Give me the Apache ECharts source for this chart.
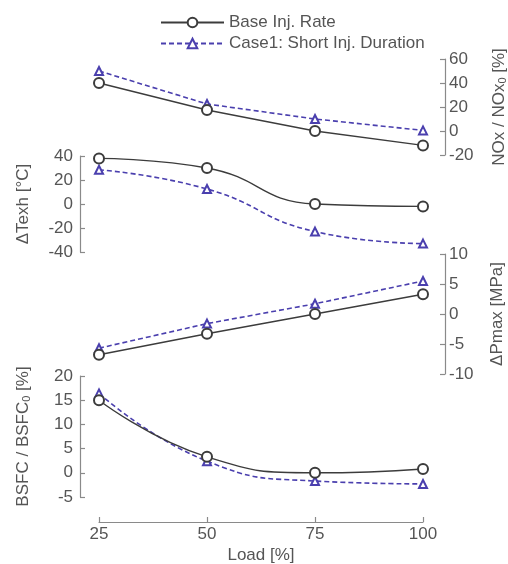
<!DOCTYPE html>
<html>
<head>
<meta charset="utf-8">
<script src="https://cdn.jsdelivr.net/npm/echarts@6/dist/echarts.min.js"></script>
<style>html,body{margin:0;padding:0;background:#fff;}#c{width:508px;height:564px;}</style>
</head>
<body>
<div id="c"></div>
<script>
const loads = [25, 50, 75, 100];
const seriesNames = ['Base Inj. Rate', 'Case1: Short Inj. Duration'];
const noxBase = [40, 17.5, 0, -12];
const noxCase1 = [50, 22.5, 10, 0.5];
const texhBase = [38, 30, 0, -2];
const texhCase1 = [28.5, 12.5, -23, -33];
const pmaxBase = [-6.8, -3.3, 0, 3.3];
const pmaxCase1 = [-5.7, -1.6, 1.7, 5.5];
const bsfcBase = [15, 3.3, 0, 0.8];
const bsfcCase1 = [16.4, 2.4, -1.7, -2.3];

const FONT = 'Liberation Sans';
const FS = 17;
const axisColor = '#8a8a8a';
const textColor = '#555';
const baseColor = '#3c3c3c';
const caseColor = '#4a3fae';

function pairs(ys) { return loads.map((x, i) => [x, ys[i]]); }

const grids = [
  {left: 99, width: 324, top: 59, height: 96, outerBoundsMode: 'none', containLabel: false},
  {left: 99, width: 324, top: 156, height: 96, outerBoundsMode: 'none', containLabel: false},
  {left: 99, width: 324, top: 254, height: 120, outerBoundsMode: 'none', containLabel: false},
  {left: 99, width: 324, top: 376, height: 121, outerBoundsMode: 'none', containLabel: false}
];

const xAxes = grids.map((g, i) => ({
  type: 'value', gridIndex: i, min: 25, max: 100, interval: 25,
  show: i === 3, position: 'bottom', offset: 25,
  axisLine: {show: true, onZero: false, lineStyle: {color: axisColor, width: 1.2}},
  axisTick: {show: true, inside: true, length: 5, lineStyle: {color: axisColor, width: 1.2}},
  axisLabel: {show: true, margin: 4, color: textColor, fontFamily: FONT, fontSize: FS},
  splitLine: {show: false},
  name: i === 3 ? 'Load [%]' : '', nameLocation: 'middle', nameGap: 25,
  nameTextStyle: {color: textColor, fontFamily: FONT, fontSize: FS}
}));

const subRich = {sub: {fontSize: 11, color: textColor, fontFamily: FONT, padding: [6, 0, 0, 0]}};

function yAxis(i, pos, min, max, interval, name, gap) {
  return {
    type: 'value', gridIndex: i, position: pos, offset: pos === 'right' ? 22 : 19,
    min: min, max: max, interval: interval,
    axisLine: {show: true, onZero: false, lineStyle: {color: axisColor, width: 1.2}},
    axisTick: {show: true, inside: true, length: 5, lineStyle: {color: axisColor, width: 1.2}},
    axisLabel: {margin: pos === 'right' ? 4 : 7, color: textColor, fontFamily: FONT, fontSize: FS},
    splitLine: {show: false},
    name: name, nameLocation: 'middle', nameRotate: 90, nameGap: gap,
    nameTextStyle: {color: textColor, fontFamily: FONT, fontSize: FS, rich: subRich}
  };
}

const yAxes = [
  yAxis(0, 'right', -20, 60, 20, 'NOx / NOx{sub|0} [%]', 46),
  yAxis(1, 'left', -40, 40, 20, 'ΔTexh [°C]', 48),
  yAxis(2, 'right', -10, 10, 5, 'ΔPmax [MPa]', 44),
  yAxis(3, 'left', -5, 20, 5, 'BSFC / BSFC{sub|0} [%]', 48)
];

function baseSeries(i, ys, smooth) {
  return {
    name: seriesNames[0], type: 'line', xAxisIndex: i, yAxisIndex: i,
    data: pairs(ys), smooth: smooth,
    symbol: 'emptyCircle', symbolSize: 10,
    lineStyle: {color: baseColor, width: 1.4},
    itemStyle: {color: baseColor, borderWidth: 1.4},
    z: 3
  };
}
function caseSeries(i, ys, smooth) {
  return {
    name: seriesNames[1], type: 'line', xAxisIndex: i, yAxisIndex: i,
    data: pairs(ys), smooth: smooth,
    symbol: 'emptyTriangle', symbolSize: 8,
    lineStyle: {color: caseColor, width: 1.6, type: [5, 3]},
    itemStyle: {color: caseColor, borderWidth: 1.6},
    z: 2
  };
}

const option = {
  backgroundColor: '#fff',
  animation: false,
  legend: {
    data: seriesNames, orient: 'vertical', left: 155, top: 9,
    itemWidth: 63, itemHeight: 12, itemGap: 4,
    textStyle: {color: textColor, fontFamily: FONT, fontSize: FS, padding: [0, 0, 0, 0]}
  },
  grid: grids,
  xAxis: xAxes,
  yAxis: yAxes,
  series: [
    baseSeries(0, noxBase, false), caseSeries(0, noxCase1, false),
    baseSeries(1, texhBase, 0.5), caseSeries(1, texhCase1, 0.5),
    baseSeries(2, pmaxBase, false), caseSeries(2, pmaxCase1, false),
    baseSeries(3, bsfcBase, 0.5), caseSeries(3, bsfcCase1, 0.5)
  ]
};

const chart = echarts.init(document.getElementById('c'), null, {renderer: 'canvas'});
chart.setOption(option);
</script>
</body>
</html>
